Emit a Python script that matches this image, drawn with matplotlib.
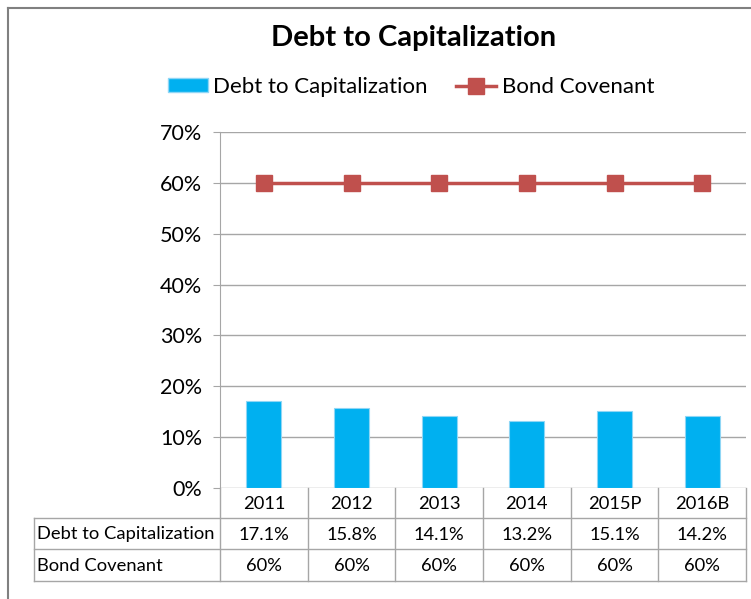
import matplotlib.pyplot as plt
import matplotlib.transforms as mtransforms
from matplotlib.lines import Line2D
from matplotlib.patches import Patch

years = ['2011', '2012', '2013', '2014', '2015P', '2016B']
debt_to_cap = [17.1, 15.8, 14.1, 13.2, 15.1, 14.2]
covenant = [60, 60, 60, 60, 60, 60]
y_ticks = [0, 10, 20, 30, 40, 50, 60, 70]

BLUE = '#00B0F0'
RED = '#C0504D'
GRID = '#a6a6a6'

plt.rcParams['font.family'] = ['Lato', 'DejaVu Sans']

W, H = 751, 599
fig = plt.figure(figsize=(W / 100, H / 100), dpi=100)


# pixel helpers (origin top-left)
def fx(px):
    return px / W


def fy(py):
    return 1 - py / H


ax = fig.add_axes([fx(220), fy(488), fx(746) - fx(220), fy(132) - fy(488)])
x = list(range(len(years)))
ax.bar(x, debt_to_cap, width=0.4, color=BLUE, edgecolor='#8fd6f5', linewidth=0.8, zorder=3)
ax.plot(x, covenant, color=RED, lw=2.5, marker='s', ms=11, zorder=4)
ax.set_xlim(-0.5, 5.5)
ax.set_ylim(0, 70)
ax.set_yticks(y_ticks)
ax.set_yticklabels([f'{v}%' for v in y_ticks])
ax.set_xticks([])
ax.yaxis.grid(True, color=GRID, lw=1)
ax.set_axisbelow(True)
for s in ['top', 'right', 'bottom']:
    ax.spines[s].set_visible(False)
ax.spines['left'].set_color(GRID)
ax.tick_params(axis='y', direction='out', length=5, color=GRID, labelsize=15.5, pad=8)

# data table under the plot
tr = mtransforms.blended_transform_factory(ax.transData, fig.transFigure)
rows = [488, 518, 549, 581]
line_kw = dict(color=GRID, lw=1)
for r in rows[1:]:
    fig.add_artist(Line2D([fx(34), fx(746)], [fy(r), fy(r)], **line_kw))
for i in range(len(years) + 1):
    fig.add_artist(Line2D([i - 0.5, i - 0.5], [fy(488), fy(581)], transform=tr, **line_kw))
fig.add_artist(Line2D([fx(34), fx(34)], [fy(518), fy(581)], **line_kw))

table_fs = 13.2
for i, yr in enumerate(years):
    fig.text(i, fy((rows[0] + rows[1]) / 2 + 1), yr, transform=tr, ha='center', va='center', fontsize=table_fs)
    fig.text(i, fy((rows[1] + rows[2]) / 2 + 1), f'{debt_to_cap[i]:.1f}%', transform=tr,
             ha='center', va='center', fontsize=table_fs)
    fig.text(i, fy((rows[2] + rows[3]) / 2 + 1), f'{covenant[i]}%', transform=tr,
             ha='center', va='center', fontsize=table_fs)
fig.text(fx(37), fy((rows[1] + rows[2]) / 2 + 1), 'Debt to Capitalization', ha='left', va='center', fontsize=table_fs)
fig.text(fx(37), fy((rows[2] + rows[3]) / 2 + 1), 'Bond Covenant', ha='left', va='center', fontsize=table_fs)

fig.text(fx(414), fy(38), 'Debt to Capitalization', ha='center', va='center', fontsize=21, fontweight='bold')

handles = [Patch(facecolor=BLUE, edgecolor='#8fd6f5'),
           Line2D([0], [0], color=RED, lw=2.5, marker='s', ms=11)]
fig.legend(handles, ['Debt to Capitalization', 'Bond Covenant'], loc='center',
           bbox_to_anchor=(fx(411), fy(87)), ncol=2, frameon=False, fontsize=16,
           handlelength=1.8, handleheight=0.6, handletextpad=0.25, columnspacing=1.3)

# chart border
fig.add_artist(Line2D([fx(8), fx(751)], [fy(8), fy(8)], color='#808080', lw=1.5))
fig.add_artist(Line2D([fx(8), fx(8)], [fy(8), fy(599)], color='#808080', lw=1.5))

fig.savefig('out.png', dpi=100)
